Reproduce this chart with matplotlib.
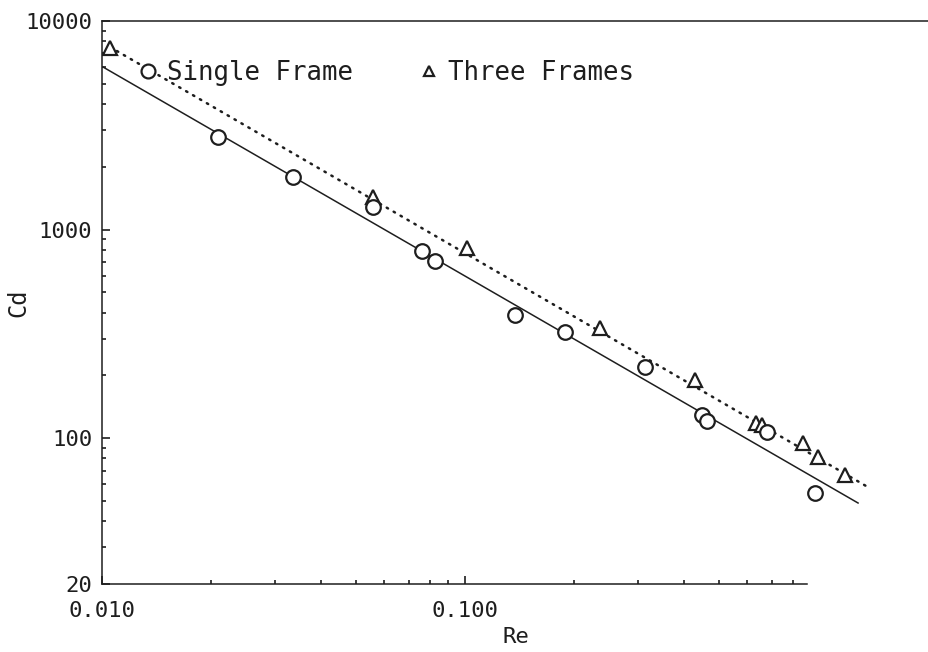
import numpy as np
import matplotlib
matplotlib.use('Agg')
import matplotlib.pyplot as plt
from matplotlib.lines import Line2D
from matplotlib.ticker import FixedLocator, LogLocator, NullFormatter

# ── data ──
re_single = [0.0209, 0.0336, 0.0558, 0.0761, 0.0827, 0.1373, 0.1886,
             0.313, 0.450, 0.464, 0.679, 0.921]
cd_single = [2780, 1788, 1283, 789, 707, 390, 323, 219, 129, 121, 107, 54.6]

re_three = [0.01052, 0.0558, 0.1013, 0.2354, 0.430, 0.634, 0.658,
            0.853, 0.938, 1.114]
cd_three = [7420, 1433, 816, 337, 190, 118, 116, 94.8, 81.3, 66.6]

# fitted power-law lines (end points)
fit_single_re = [0.01006, 1.21]
fit_single_cd = [6020, 48.9]
fit_three_re = [0.01052, 1.288]
fit_three_cd = [7505, 58.3]

x_major = [0.01, 0.1]
x_major_labels = ['0.010', '0.100']
y_major = [20, 100, 1000, 10000]
y_major_labels = ['20', '100', '1000', '10000']

INK = '#1e1e1e'
MONO = 'DejaVu Sans Mono'

plt.rcParams['font.family'] = MONO
plt.rcParams['axes.linewidth'] = 1.1

fig = plt.figure(figsize=(9.29, 6.52), dpi=100)
ax = fig.add_axes([102 / 929, 1 - 584 / 652, 827 / 929, 563 / 652])

# lines
ax.plot(fit_single_re, fit_single_cd, '-', color=INK, lw=1.1, zorder=2)
ax.plot(fit_three_re, fit_three_cd, color=INK, lw=1.8,
        linestyle=(0, (0.6, 2.6)), dash_capstyle='round', zorder=2)

# points
ax.plot(re_three, cd_three, ls='none', marker='^', ms=10, mfc='white',
        mec=INK, mew=1.6, zorder=3)
ax.plot(re_single, cd_single, ls='none', marker='o', ms=10.5, mfc='white',
        mec=INK, mew=1.6, zorder=4)

ax.set_xscale('log')
ax.set_yscale('log')
ax.set_xlim(0.01, 10 ** (-2 + 827 / 363))
ax.set_ylim(20, 10000)

# ticks
ax.xaxis.set_major_locator(FixedLocator(x_major))
ax.set_xticklabels(x_major_labels)
minor_x = [m * 10.0 ** e for e in (-2, -1) for m in range(2, 10) if m * 10.0 ** e < 0.85]
ax.xaxis.set_minor_locator(FixedLocator(minor_x))
ax.xaxis.set_minor_formatter(NullFormatter())

ax.yaxis.set_major_locator(FixedLocator(y_major))
ax.set_yticklabels(y_major_labels)
ax.yaxis.set_minor_locator(LogLocator(base=10, subs=np.arange(2, 10)))
ax.yaxis.set_minor_formatter(NullFormatter())

ax.tick_params(which='both', direction='in', color=INK, width=1.2,
               top=False, right=False)
ax.tick_params(which='major', length=5.5)
ax.tick_params(which='minor', length=3.2)
ax.tick_params(axis='x', which='major', pad=12, labelsize=16, labelcolor=INK)
ax.tick_params(axis='y', which='major', pad=7, labelsize=16, labelcolor=INK)

# spines: full top line, bottom axis stops short, no right side
for s in ax.spines.values():
    s.set_color(INK)
ax.spines['right'].set_visible(False)
ax.spines['bottom'].set_bounds(0.01, 0.875)

ax.set_xlabel('Re', fontsize=16, color=INK)
ax.set_ylabel('Cd', fontsize=17, color=INK)
ax.xaxis.set_label_coords(0.5, -0.076)
ax.xaxis.label.set_va('top')
ax.yaxis.set_label_coords(-0.087, 0.5)

# legend
handles = [
    Line2D([], [], ls='none', marker='o', ms=10, mfc='white', mec=INK, mew=1.6,
           label='Single Frame'),
    Line2D([], [], ls='none', marker='^', ms=6.5, mfc='white', mec=INK, mew=1.6,
           label='Three Frames'),
]
leg = ax.legend(handles=handles, loc='center left', bbox_to_anchor=(0.040, 0.9076),
                ncol=2, frameon=False, borderpad=0, borderaxespad=0,
                handlelength=1.0, handletextpad=0.25, columnspacing=2.45,
                prop={'family': MONO, 'size': 18.5})
for t in leg.get_texts():
    t.set_color(INK)

fig.savefig('out.png', dpi=100, facecolor='white')
plt.close()
